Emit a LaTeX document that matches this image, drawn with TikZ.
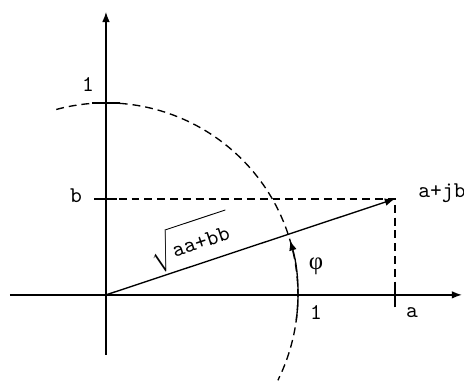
\documentclass[tikz,border=0pt]{standalone}
\usepackage{fontspec}
\newfontfamily\greekfont{Liberation Serif}
\usetikzlibrary{arrows.meta,positioning}

\begin{document}
\begin{tikzpicture}[
    x=3cm, y=3cm,
    every node/.style={font=\ttfamily\fontsize{10}{12}\selectfont, inner sep=2pt},
    axis/.style={line width=0.6pt, -{Latex[length=4.5pt,width=3.4pt]}},
    tick/.style={line width=0.6pt},
    guide/.style={line width=0.6pt, dash pattern=on 3.5pt off 2.2pt},
    arrow/.style={line width=0.6pt, -{Latex[length=4.5pt,width=3.4pt]}}
]
\useasboundingbox (-0.552,-0.458) rectangle (1.865,1.536);

% Axes
\coordinate (origin) at (0,0);
\coordinate (xstart) at (-0.5,0);
\coordinate (xend) at (1.854,0);
\coordinate (ystart) at (0,-0.3125);
\coordinate (yend) at (0,1.474);
\draw[axis] (xstart) -- (xend);
\draw[axis] (ystart) -- (yend);

% Point and its projections
\coordinate (point) at (1.505,0.5);
\coordinate (bpos) at (0,0.5);
\coordinate (apos) at (1.505,0);
\draw[guide] (bpos) -- (point) -- (apos);

% Ticks
\draw[tick] (-0.073,1) -- (0.073,1);
\draw[tick] (-0.06,0.5) -- (0.06,0.5);
\draw[tick] (1.505,-0.065) -- (1.505,0.065);

% Unit circle
\coordinate (arcstart) at (105:1);
\draw[guide] (arcstart) arc[start angle=105, end angle=-26.4, radius=1];

% Vector and angle
\draw[arrow] (origin) -- node[sloped, above, pos=0.32, inner sep=1pt] (magnitude)
    {$\sqrt{\rule[-2.5pt]{0pt}{12.5pt}\mbox{aa+bb}\,}$} (point);
\coordinate (phistart) at (-7.5:1);
\draw[arrow] (phistart) arc[start angle=-7.5, end angle=16.5, radius=1];

% Labels
\node (yone) at (-0.094,1.094) {1};
\node (blabel) at (-0.156,0.516) {b};
\node (xone) at (1.094,-0.094) {1};
\node (alabel) at (1.594,-0.094) {a};
\node[anchor=west, inner sep=0pt] (zlabel) at (1.625,0.531) {a+jb};
\node (philabel) at (1.094,0.148) {\greekfont\fontsize{11}{13}\selectfont φ};

\end{tikzpicture}
\end{document}
